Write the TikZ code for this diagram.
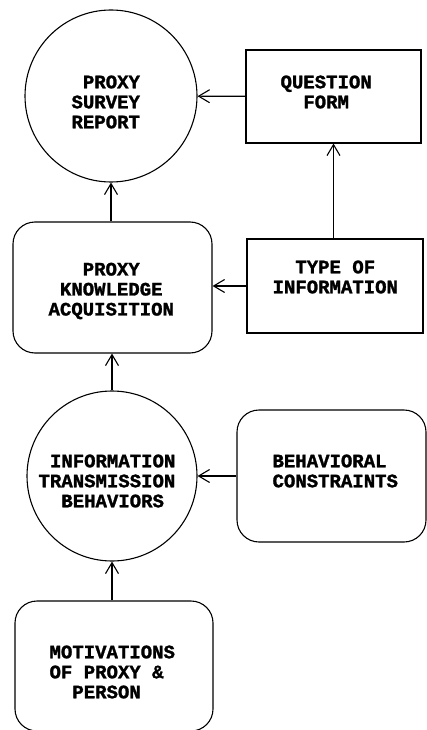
\documentclass[tikz,border=0pt]{standalone}
\usepackage{fontspec}
\newfontfamily\typefont{Liberation Mono Bold}[FakeBold=1.5]
\usetikzlibrary{arrows.meta,calc}
\begin{document}
\begin{tikzpicture}[x=1pt,y=-1pt,
  line width=1.1pt,
  arr/.style={-{Straight Barb[length=11pt,width=13pt,line width=1.1pt]}},
  circ/.style={draw,circle,inner sep=0pt},
  sqbox/.style={draw,rectangle,inner sep=0pt},
  rbox/.style={draw,rectangle,rounded corners=22pt,inner sep=0pt},
  lbl/.style={anchor=west,inner sep=0pt,align=left,font=\typefont\fontsize{19}{20}\selectfont}
]
\useasboundingbox (0,0) rectangle (427,730);
\clip (0,0) rectangle (427,730);
% shapes
\node[circ,minimum size=172pt] (c1) at (111,96) {};
\node[sqbox,minimum width=175pt,minimum height=93pt] (qf) at (333.5,96.5) {};
\node[rbox,minimum width=199pt,minimum height=131pt] (pka) at (112.5,287.5) {};
\node[sqbox,minimum width=176pt,minimum height=94pt] (toi) at (335,286) {};
\node[circ,minimum size=170pt] (c2) at (112,476) {};
\node[rbox,minimum width=189pt,minimum height=132pt] (bc) at (331.5,476) {};
\node[rbox,minimum width=198pt,minimum height=130pt] (mot) at (114,666) {};
% texts
\node[lbl] (c1t) at (71,102) {~PROXY\\SURVEY\\REPORT};
\node[lbl] (qft) at (280,92) {QUESTION\\~~FORM};
\node[lbl] (pkat) at (48,291) {~~~PROXY\\~KNOWLEDGE\\ACQUISITION};
\node[lbl] (toit) at (272,277) {~~TYPE~OF\\INFORMATION};
\node[lbl] (c2t) at (38,481) {~INFORMATION\\TRANSMISSION\\~~BEHAVIORS};
\node[lbl] (bct) at (272,471) {BEHAVIORAL\\CONSTRAINTS};
\node[lbl] (mott) at (49,672) {MOTIVATIONS\\OF~PROXY~\&\\~~PERSON};
% connectors
\draw[arr] (qf) -- (c1);
\draw[arr] (toi.north -| qf.south) -- (qf.south);
\draw[arr] (pka.north -| c1.south) -- (c1.south);
\draw[arr] (toi.west) -- (toi.west -| pka.east);
\draw[arr] (c2.north) -- (c2.north |- pka.south);
\draw[arr] (bc) -- (c2);
\draw[arr] (mot.north -| c2.south) -- (c2.south);
\end{tikzpicture}
\end{document}
